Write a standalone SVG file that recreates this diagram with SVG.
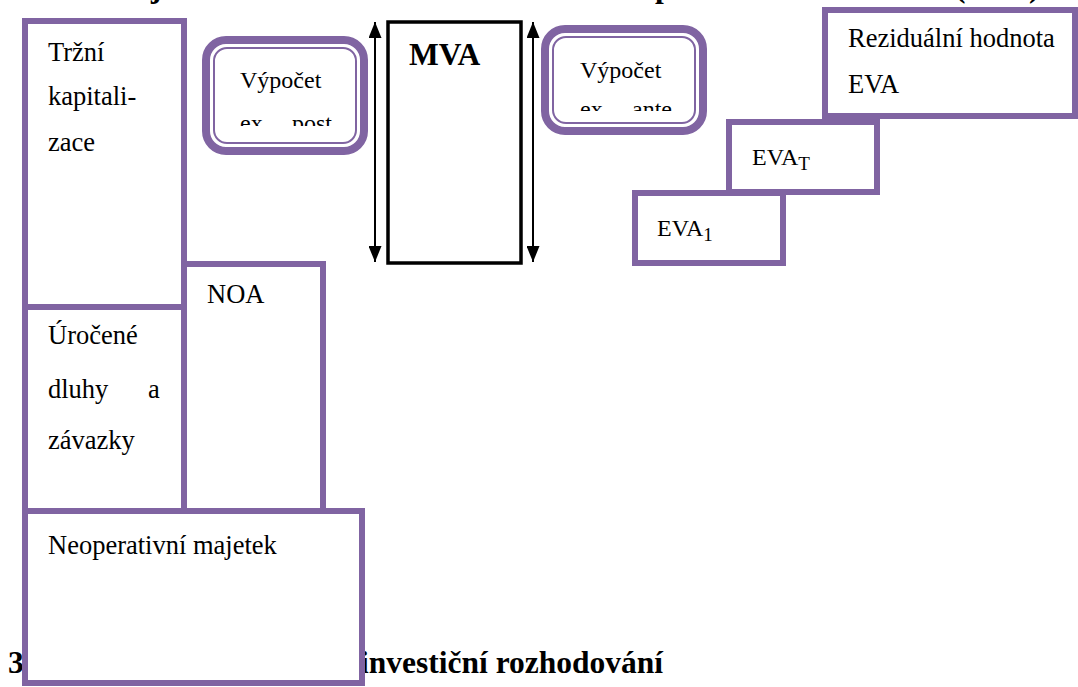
<svg xmlns="http://www.w3.org/2000/svg" width="1078" height="687" viewBox="0 0 1078 687">
  <style>
    .box { fill: #ffffff; stroke: #8064a2; stroke-width: 6; }
    .pill { fill: #ffffff; stroke: #8064a2; stroke-width: 8; }
    .pill-in { fill: none; stroke: #8064a2; stroke-width: 2; }
    .mva { fill: #ffffff; stroke: #000000; stroke-width: 3.5; }
    .t { font-family: "Liberation Serif", "Times New Roman", serif; font-size: 26.5px; fill: #000000; }
    .ts { font-family: "Liberation Serif", "Times New Roman", serif; font-size: 24px; fill: #000000; }
    .hb { font-family: "Liberation Serif", "Times New Roman", serif; font-size: 31.5px; font-weight: bold; fill: #000000; }
    .arrow { stroke: #000000; stroke-width: 2; fill: none; marker-start: url(#head); marker-end: url(#head); }
  </style>
  <defs>
    <marker id="head" markerUnits="userSpaceOnUse" markerWidth="16" markerHeight="13" refX="16" refY="6.5" orient="auto-start-reverse">
      <path d="M0,0 L16,6.5 L0,13 z" fill="#000000"/>
    </marker>
    <clipPath id="clipPost"><rect x="210" y="40" width="150" height="86"/></clipPath>
    <clipPath id="clipAnte"><rect x="550" y="30" width="150" height="81"/></clipPath>
  </defs>

  <!-- headings partly hidden by the page edge and the boxes -->
  <g id="headings" class="hb">
    <text x="151" y="-3">j</text>
    <text x="655" y="-3">p</text>
    <text x="955" y="-3">(</text>
    <text x="1029" y="-3">)</text>
    <text x="8" y="673">3</text>
    <text x="360" y="673">investiční rozhodování</text>
  </g>

  <!-- left stack: market capitalisation, debt, NOA, non-operating assets -->
  <g id="trzni-kapitalizace">
    <rect class="box" x="25" y="21" width="159" height="286"/>
    <text class="t" x="48" y="61">Tržní</text>
    <text class="t" x="48" y="105">kapitali-</text>
    <text class="t" x="48" y="151">zace</text>
  </g>
  <g id="urocene-dluhy">
    <rect class="box" x="25" y="307" width="159" height="204"/>
    <text class="t" x="48" y="344">Úročené</text>
    <text class="t" x="48" y="398">dluhy</text>
    <text class="t" x="148" y="398">a</text>
    <text class="t" x="48" y="449">závazky</text>
  </g>
  <g id="noa">
    <rect class="box" x="184" y="264" width="139" height="247"/>
    <text class="t" x="207" y="303">NOA</text>
  </g>
  <g id="neoperativni-majetek">
    <rect class="box" x="25" y="511" width="337" height="172"/>
    <text class="t" x="48" y="554">Neoperativní majetek</text>
  </g>

  <!-- ex post calculation -->
  <g id="vypocet-ex-post">
    <rect class="pill" x="206" y="40" width="158" height="111" rx="20"/>
    <rect class="pill-in" x="214" y="48" width="142" height="95" rx="13"/>
    <text class="ts" x="240" y="88">Výpočet</text>
    <g clip-path="url(#clipPost)">
      <text class="ts" x="240" y="131">ex</text>
      <text class="ts" x="292" y="131">post</text>
    </g>
  </g>

  <!-- MVA -->
  <g id="mva">
    <rect class="mva" x="388" y="22" width="133" height="241"/>
    <text class="hb" x="409" y="65" font-size="33">MVA</text>
  </g>

  <!-- ex ante calculation -->
  <g id="vypocet-ex-ante">
    <rect class="pill" x="545" y="29" width="158" height="102" rx="20"/>
    <rect class="pill-in" x="553" y="37" width="142" height="86" rx="13"/>
    <text class="ts" x="580" y="78">Výpočet</text>
    <g clip-path="url(#clipAnte)">
      <text class="ts" x="580" y="117">ex</text>
      <text class="ts" x="632" y="117">ante</text>
    </g>
  </g>

  <!-- EVA steps -->
  <g id="rezidualni-hodnota">
    <rect class="box" x="825" y="10" width="250" height="106"/>
    <text class="t" x="848" y="47">Reziduální hodnota</text>
    <text class="t" x="848" y="93">EVA</text>
  </g>
  <g id="eva-t">
    <rect class="box" x="729" y="122" width="148" height="70"/>
    <text class="ts" x="752" y="165">EVA<tspan font-size="19" dy="5">T</tspan></text>
  </g>
  <g id="eva-1">
    <rect class="box" x="635" y="193" width="148" height="70"/>
    <text class="ts" x="657" y="236">EVA<tspan font-size="19" dy="5">1</tspan></text>
  </g>

  <!-- span arrows beside MVA -->
  <g id="connectors">
    <line class="arrow" x1="375" y1="262" x2="375" y2="22"/>
    <line class="arrow" x1="533" y1="262" x2="533" y2="22"/>
  </g>
</svg>
